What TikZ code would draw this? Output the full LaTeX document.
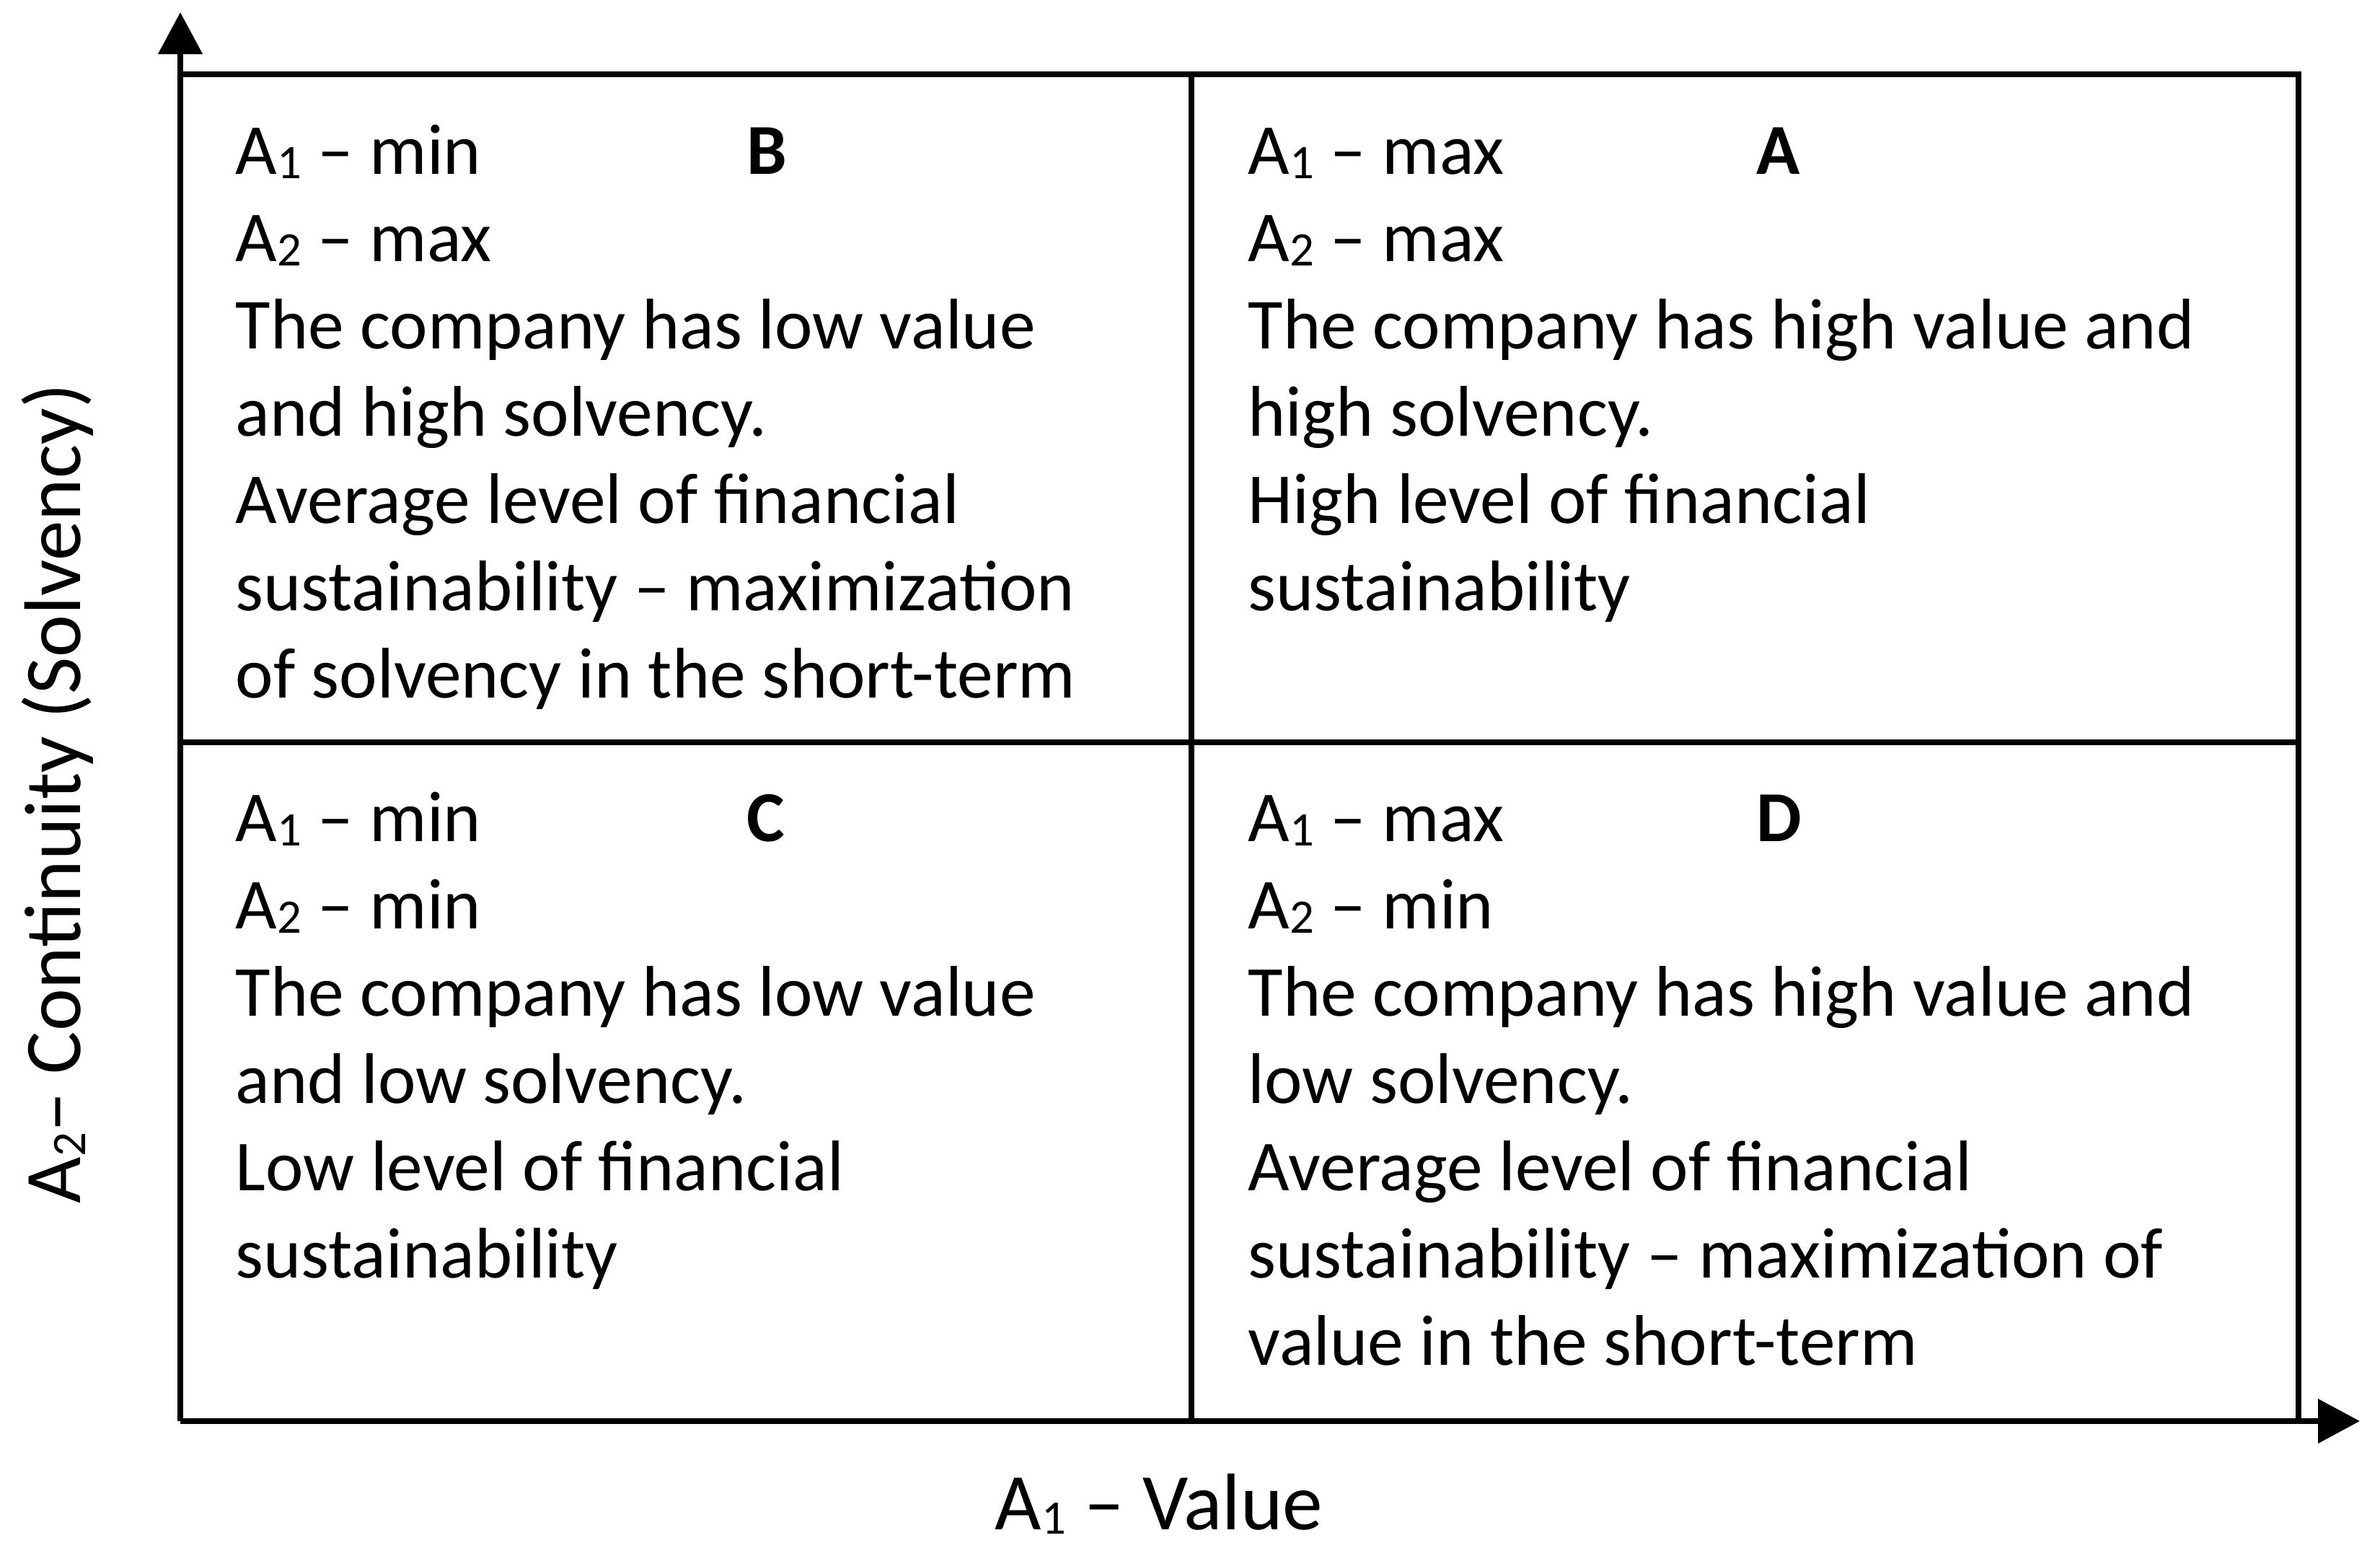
\documentclass[tikz,border=0pt]{standalone}
\usepackage{fontspec}
\setmainfont{Carlito}
\usetikzlibrary{arrows.meta}

\newcommand{\idx}[1]{\raisebox{-0.12ex}{\fontsize{19}{19}\selectfont #1}}

\begin{document}
\begin{tikzpicture}[
    axis/.style={line width=0.08cm, -{Triangle[length=0.58cm,width=0.6cm]}},
    grid/.style={line width=0.08cm},
    quad/.style={anchor=north west, inner sep=0pt, align=left,
        font=\fontsize{28.3}{34.45}\selectfont},
    tag/.style={anchor=base west, inner sep=0pt,
        font=\fontsize{28.3}{34.45}\selectfont\bfseries},
    axlabel/.style={inner sep=0pt, font=\fontsize{31.7}{31.7}\selectfont}]

        \useasboundingbox (0,0) rectangle (33,-21.56);

        % Corners of the frame
        \coordinate (O) at (2.50,-19.70);
        \coordinate (Ytip) at (2.50,-0.17);
        \coordinate (Xtip) at (32.72,-19.70);
        \coordinate (TL) at (2.50,-1.03);
        \coordinate (TR) at (31.87,-1.03);
        \coordinate (BR) at (31.87,-19.70);
        \coordinate (TM) at (16.52,-1.03);
        \coordinate (BM) at (16.52,-19.70);
        \coordinate (ML) at (2.50,-10.29);
        \coordinate (MR) at (31.87,-10.29);

        % Axes
        \draw[axis] (O) -- (Ytip);
        \draw[axis] (O) -- (Xtip);

        % Frame and dividing lines
        \draw[grid] (TL) -- (TR) -- (BR);
        \draw[grid] (TM) -- (BM);
        \draw[grid] (ML) -- (MR);

        % Quadrant B (strut: first baseline 0.85cm below the top)
        \node [quad] (B) at (3.26,-1.56) {\strut A\idx{1} – min\\
            A\idx{2} – max\\
            The company has low value\\
            and high solvency.\\
            Average level of financial\\
            sustainability – maximization\\
            of solvency in the short-term};

        % Quadrant A
        \node [quad] (A) at (17.30,-1.56) {\strut A\idx{1} – max\\
            A\idx{2} – max\\
            The company has high value and\\
            high solvency.\\
            High level of financial\\
            sustainability};

        % Quadrant C
        \node [quad] (C) at (3.26,-10.81) {\strut A\idx{1} – min\\
            A\idx{2} – min\\
            The company has low value\\
            and low solvency.\\
            Low level of financial\\
            sustainability};

        % Quadrant D
        \node [quad] (D) at (17.30,-10.81) {\strut A\idx{1} – max\\
            A\idx{2} – min\\
            The company has high value and\\
            low solvency.\\
            Average level of financial\\
            sustainability – maximization of\\
            value in the short-term};

        % Quadrant letters
        \node [tag] (tagB) at (10.35,-2.41) {B};
        \node [tag] (tagA) at (24.35,-2.41) {A};
        \node [tag] (tagC) at (10.35,-11.66) {C};
        \node [tag] (tagD) at (24.35,-11.66) {D};

        % Axis labels
        \node [axlabel, anchor=base] (xlab) at (16.07,-21.20) {A\idx{1} – Value};
        \node [axlabel, rotate=90] (ylab) at (0.80,-11.00) {A\idx{2}– Continuity (Solvency)};

\end{tikzpicture}
\end{document}
